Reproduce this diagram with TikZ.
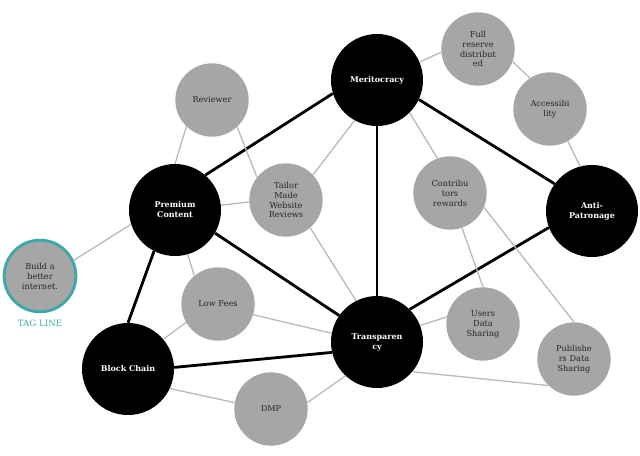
\documentclass[tikz,border=0pt]{standalone}
\usepackage{fontspec}
\setmainfont{DejaVu Serif}
\usepackage{tikz}
\usetikzlibrary{positioning}
\definecolor{hubgray}{RGB}{166,166,166}
\definecolor{linkgray}{RGB}{185,185,185}
\definecolor{tagteal}{RGB}{64,168,170}
\tikzset{
node distance=3cm, % base distance, every node below gives its own
every node/.style={font=\fontsize{7}{8.5}\selectfont, align=center}, % small serif text everywhere
hub/.style={circle, fill=black, text=white, minimum size=2.76cm, inner sep=0pt, font=\fontsize{6.8}{8.5}\selectfont\bfseries}, % the big black circles
topic/.style={circle, fill=hubgray, text=black!85, minimum size=2.2cm, inner sep=0pt}, % the grey circles
strong/.style={line width=2.4pt, black}, % links between black circles
weak/.style={line width=1.1pt, linkgray}, % every other link
}

\begin{document}
\begin{tikzpicture}[on grid]
    \useasboundingbox (0,0) rectangle (19.2,-13.65);
    \node[hub] (pc) at (5.25,-6.3) {Premium\\Content};
    \node[hub, above right=3.9cm and 6.06cm of pc] (merit) {Meritocracy};
    \node[hub, below=7.86cm of merit] (trans) {Transparen\\cy};
    \node[hub, below right=3.93cm and 6.45cm of merit] (anti) {Anti-\\Patronage};
    \node[hub, below left=4.77cm and 1.41cm of pc] (bc) {Block Chain};
    \node[topic, above right=3.3cm and 1.11cm of pc] (rev) {Reviewer};
    \node[topic, above right=0.3cm and 3.33cm of pc] (tailor) {Tailor\\Made\\Website\\Reviews};
    \node[topic, below right=2.82cm and 1.29cm of pc] (low) {Low Fees};
    \node[topic, below right=1.2cm and 4.29cm of bc] (dmp) {DMP};
    \node[topic, draw=tagteal, line width=2.5pt, minimum size=2.15cm, below left=1.98cm and 4.05cm of pc] (build) {Build a\\better\\internet.};
    \node[below=1.43cm of build, text=tagteal, font=\fontsize{7.4}{9}\selectfont] (tag) {TAG LINE};
    \node[topic, above right=0.93cm and 3.03cm of merit] (full) {Full\\reserve\\distribut\\ed};
    \node[topic, below right=1.8cm and 2.16cm of full] (acc) {Accessibi\\lity};
    \node[topic, below right=3.39cm and 2.19cm of merit] (contrib) {Contribu\\tors\\rewards};
    \node[topic, above right=0.54cm and 3.18cm of trans] (users) {Users\\Data\\Sharing};
    \node[topic, below right=0.51cm and 5.91cm of trans] (publ) {Publishe\\rs Data\\Sharing};
    \draw
        (pc.49) edge[strong] (merit.197)
        (pc.-30) edge[strong] (trans.145)
        (pc.243) edge[strong] (bc.90)
        (merit.270) edge[strong] (trans.90)
        (merit.-25) edge[strong] (anti.144)
        (trans.45) edge[strong] (anti.201)
        (bc.2) edge[strong] (trans.193)
        ;
    \draw
        (build.25) edge[weak] (pc.198)
        (rev.226) edge[weak] (pc.90)
        (rev.-47) edge[weak] (tailor.142)
        (tailor.183) edge[weak] (pc.6)
        (merit.-119) edge[weak] (tailor.43)
        (tailor.-49) edge[weak] (trans.117)
        (merit.23) edge[weak] (full.185)
        (full.-20) edge[weak] (acc.123)
        (acc.-61) edge[weak] (anti.105)
        (merit.-45) edge[weak] (contrib.110)
        (contrib.-71) edge[weak] (users.90)
        (contrib.-23) edge[weak] (publ.90)
        (users.169) edge[weak] (trans.21)
        (publ.226) edge[weak] (trans.-40)
        (pc.-74) edge[weak] (low.130)
        (low.210) edge[weak] (bc.40)
        (low.-17) edge[weak] (trans.169)
        (bc.-25) edge[weak] (dmp.170)
        (dmp.10) edge[weak] (trans.227)
        ;
\end{tikzpicture}
\end{document}
